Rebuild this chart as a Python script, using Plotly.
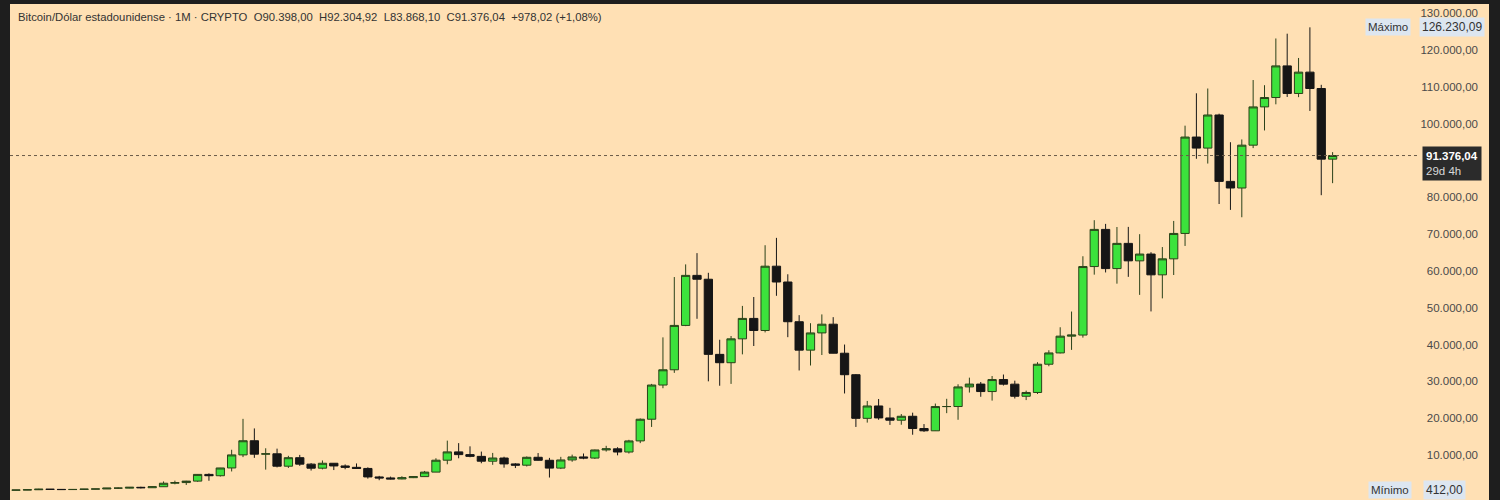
import plotly.graph_objects as go

# ---------------- data (monthly BTC/USD, Apr 2016 - Dec 2025) ----------------
months = [
    "2016-04", "2016-05", "2016-06", "2016-07", "2016-08", "2016-09", "2016-10", "2016-11", "2016-12",
    "2017-01", "2017-02", "2017-03", "2017-04", "2017-05", "2017-06", "2017-07", "2017-08", "2017-09", "2017-10", "2017-11", "2017-12",
    "2018-01", "2018-02", "2018-03", "2018-04", "2018-05", "2018-06", "2018-07", "2018-08", "2018-09", "2018-10", "2018-11", "2018-12",
    "2019-01", "2019-02", "2019-03", "2019-04", "2019-05", "2019-06", "2019-07", "2019-08", "2019-09", "2019-10", "2019-11", "2019-12",
    "2020-01", "2020-02", "2020-03", "2020-04", "2020-05", "2020-06", "2020-07", "2020-08", "2020-09", "2020-10", "2020-11", "2020-12",
    "2021-01", "2021-02", "2021-03", "2021-04", "2021-05", "2021-06", "2021-07", "2021-08", "2021-09", "2021-10", "2021-11", "2021-12",
    "2022-01", "2022-02", "2022-03", "2022-04", "2022-05", "2022-06", "2022-07", "2022-08", "2022-09", "2022-10", "2022-11", "2022-12",
    "2023-01", "2023-02", "2023-03", "2023-04", "2023-05", "2023-06", "2023-07", "2023-08", "2023-09", "2023-10", "2023-11", "2023-12",
    "2024-01", "2024-02", "2024-03", "2024-04", "2024-05", "2024-06", "2024-07", "2024-08", "2024-09", "2024-10", "2024-11", "2024-12",
    "2025-01", "2025-02", "2025-03", "2025-04", "2025-05", "2025-06", "2025-07", "2025-08", "2025-09", "2025-10", "2025-11", "2025-12",
]

opens = [
    416, 448, 531, 673, 624, 575, 609, 699, 742,
    964, 966, 1190, 1080, 1350, 2300, 2480, 2875, 4700, 4340, 6450, 10000,
    13850, 10200, 10300, 6930, 9240, 7490, 6390, 7730, 7000, 6620, 6320, 4010,
    3740, 3460, 3810, 4100, 5320, 8560, 10820, 10080, 9600, 8290, 9150, 7550,
    7200, 9350, 8540, 6410, 8630, 9450, 9140, 11350, 11650, 10780, 13800, 19700,
    28990, 33140, 45200, 58800, 57750, 37330, 35060, 41550, 47100, 43820, 61300, 57000,
    46200, 38480, 43160, 45530, 37640, 31800, 19940, 23300, 20050, 19430, 20500, 17170,
    16550, 23140, 23150, 28480, 29250, 27220, 30480, 29230, 25940, 26970, 34650, 37720,
    42280, 42580, 61200, 71300, 60650, 67500, 62750, 64600, 58950, 63300, 70200, 96400,
    93400, 102400, 84350, 82550, 94200, 104600, 107150, 115750, 108250, 114050, 109600, 90398.00,
]
highs = [
    467, 550, 780, 703, 628, 630, 740, 757, 980,
    1150, 1215, 1350, 1450, 2790, 3000, 2950, 4770, 4980, 6470, 11400, 19800,
    17200, 11800, 11700, 9750, 10000, 7760, 8490, 7760, 7410, 7680, 6620, 4300,
    4100, 4200, 4150, 5640, 9090, 13880, 13200, 12330, 10900, 10540, 9500, 7750,
    9580, 10500, 9190, 9470, 10080, 10380, 11450, 12470, 12090, 14100, 19900, 29300,
    41950, 58350, 61790, 64850, 59500, 41300, 42320, 50500, 52920, 67000, 69000, 59100,
    47990, 45800, 48190, 47440, 40000, 31990, 24670, 25200, 22790, 21100, 21480, 18380,
    23960, 25250, 29200, 31000, 29820, 31440, 31850, 30180, 27480, 35200, 38450, 44700,
    48970, 64000, 73800, 72800, 71950, 71980, 70000, 65100, 66500, 73600, 99500, 108300,
    109600, 102750, 95000, 95750, 111900, 110500, 123200, 124500, 117900, 126230.09, 110600, 92304.92,
]
lows = [
    412, 436, 520, 470, 470, 570, 605, 680, 740,
    750, 920, 890, 1060, 1330, 2000, 1830, 2670, 2970, 4110, 5500, 9400,
    9200, 6000, 6600, 6450, 7030, 5750, 6070, 5880, 6100, 6200, 3550, 3120,
    3350, 3380, 3700, 4080, 5330, 7450, 9080, 9360, 7730, 7300, 6520, 6430,
    6850, 8450, 3850, 6150, 8130, 8830, 8900, 10900, 9880, 10370, 13200, 17600,
    28130, 32300, 45000, 47000, 30000, 28800, 29300, 37330, 39600, 43300, 53250, 42000,
    32950, 34300, 37150, 37600, 26700, 17600, 18780, 19550, 18150, 18200, 15480, 16260,
    16500, 21350, 19550, 26950, 25800, 24760, 28860, 25330, 24900, 26550, 34100, 37600,
    38550, 41880, 59000, 59600, 56550, 58400, 53500, 49000, 52550, 58900, 66800, 90500,
    89200, 78200, 76600, 74600, 93400, 98200, 105300, 107300, 107250, 103500, 80600, 83868.10,
]
closes = [
    448, 531, 673, 624, 575, 609, 699, 742, 964,
    966, 1190, 1080, 1350, 2300, 2480, 2875, 4700, 4340, 6450, 10000, 13850,
    10200, 10300, 6930, 9240, 7490, 6390, 7730, 7000, 6620, 6320, 4010, 3740,
    3460, 3810, 4100, 5320, 8560, 10820, 10080, 9600, 8290, 9150, 7550, 7200,
    9350, 8540, 6410, 8630, 9450, 9140, 11350, 11650, 10780, 13800, 19700, 28990,
    33140, 45200, 58800, 57750, 37330, 35060, 41550, 47100, 43820, 61300, 57000, 46200,
    38480, 43160, 45530, 37640, 31800, 19940, 23300, 20050, 19430, 20500, 17170, 16550,
    23140, 23150, 28480, 29250, 27220, 30480, 29230, 25940, 26970, 34650, 37720, 42280,
    42580, 61200, 71300, 60650, 67500, 62750, 64600, 58950, 63300, 70200, 96400, 93400,
    102400, 84350, 82550, 94200, 104600, 107150, 115750, 108250, 114050, 109600, 90398, 91376.04,
]

# 90.000,00 is hidden behind the current-price label in the reference
y_ticks = [10000, 20000, 30000, 40000, 50000, 60000, 70000, 80000,
           100000, 110000, 120000, 130000]

title_text = ("Bitcoin/Dólar estadounidense · 1M · CRYPTO\u00a0\u00a0O90.398,00\u00a0\u00a0H92.304,92"
              "\u00a0\u00a0L83.868,10\u00a0\u00a0C91.376,04\u00a0\u00a0+978,02 (+1,08%)")
last_price = 91376.04
max_price = 126230.09
min_price = 412.00

# ---------------- style ----------------
BG = "#FFE0B4"
FRAME = "#1E1E1E"
FONT = "Liberation Sans"

fig = go.Figure()
fig.add_trace(go.Candlestick(
    x=months, open=opens, high=highs, low=lows, close=closes,
    increasing=dict(line=dict(color="#2B4219", width=1), fillcolor="#3CE23C"),
    decreasing=dict(line=dict(color="#161616", width=1), fillcolor="#161616"),
    whiskerwidth=0,
    hoverinfo="skip",
))

# current price dotted line
fig.add_shape(type="line", xref="paper", yref="y", x0=0, x1=0.953,
              y0=last_price, y1=last_price,
              line=dict(color="#6A5A48", width=1, dash="dot"))

def px_x(px):
    return (px - 10) / 1479.0

fig.add_annotation(xref="paper", yref="paper", x=px_x(16), y=1 - (17 - 4) / 496.0,
                   xanchor="left", yanchor="middle", showarrow=False,
                   text=title_text, font=dict(family=FONT, size=11.3, color="#333333"))

# current price label
fig.add_annotation(xref="paper", yref="y", x=px_x(1482), y=last_price,
                   xanchor="right", yanchor="top", yshift=10, showarrow=False, align="left",
                   text="<b>91.376,04</b><br><span style='color:#d8d8d8'>29d 4h</span>",
                   font=dict(family=FONT, size=11.5, color="#ffffff"),
                   bgcolor="#2B2B2B", borderpad=3)

# Máximo / Mínimo labels
fig.add_annotation(xref="paper", yref="y", x=px_x(1411), y=max_price,
                   xanchor="right", yanchor="middle", showarrow=False,
                   text="Máximo", font=dict(family=FONT, size=11.5, color="#333333"),
                   bgcolor="#DDE6F0", borderpad=2)
fig.add_annotation(xref="paper", yref="y", x=px_x(1485), y=max_price,
                   xanchor="right", yanchor="middle", showarrow=False,
                   text="126.230,09", font=dict(family=FONT, size=12, color="#333333"),
                   bgcolor="#DDE6F0", borderpad=2)
fig.add_annotation(xref="paper", yref="y", x=px_x(1412), y=min_price,
                   xanchor="right", yanchor="middle", showarrow=False,
                   text="Mínimo", font=dict(family=FONT, size=11.5, color="#333333"),
                   bgcolor="#DDE6F0", borderpad=2)
fig.add_annotation(xref="paper", yref="y", x=px_x(1466), y=min_price,
                   xanchor="right", yanchor="middle", showarrow=False,
                   text="412,00", font=dict(family=FONT, size=12, color="#333333"),
                   bgcolor="#DDE6F0", borderpad=2)

fig.update_layout(
    width=1500, height=500,
    margin=dict(l=10, r=11, t=4, b=0),
    paper_bgcolor=FRAME, plot_bgcolor=BG,
    showlegend=False,
    separators=",.",
    font=dict(family=FONT),
    boxgap=0.27, boxgroupgap=0,
    xaxis=dict(type="category", range=[-0.529, 129.78], visible=False,
               rangeslider=dict(visible=False), showgrid=False, fixedrange=True),
    yaxis=dict(side="right", range=[-2259, 132571], tickvals=y_ticks,
               tickformat=",.2f", ticklabelposition="inside", ticklabelstandoff=8,
               showgrid=False, zeroline=False, showline=False, ticks="",
               tickfont=dict(family=FONT, size=11.5, color="#4A4A4A")),
)

fig.write_html("out.html")
